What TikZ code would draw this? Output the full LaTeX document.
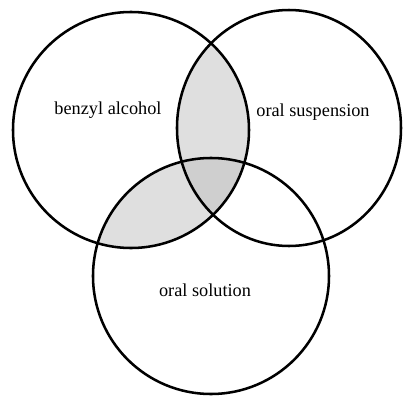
\documentclass[tikz,border=0pt]{standalone}
\usepackage{fontspec}
\setmainfont{Liberation Serif}
\usepackage{tikz}
\usetikzlibrary{calc}
\usetikzlibrary{positioning}

\begin{document}
\begin{tikzpicture}[x=0.025cm,y=-0.025cm,line width=1.8pt,
    setlabel/.style={font=\fontsize{13}{15}\selectfont}]
          \useasboundingbox (0,0) rectangle (404,396);
          \coordinate (A) at (131,130);
          \coordinate (B) at (289,128);
          \coordinate (C) at (211,276);
          \def\rad{118}

          % pairwise overlaps
          \begin{scope}
            \clip (A) circle (\rad);
            \fill[gray!25] (B) ellipse (112 and 118);
            \fill[gray!25] (C) circle (\rad);
          \end{scope}
          \begin{scope}
            \clip (A) circle (\rad);
            \clip (B) ellipse (112 and 118);
            \fill[gray!38] (C) circle (\rad);
          \end{scope}

          \draw (A) circle (\rad);
          \draw (B) ellipse (112 and 118);
          \draw (C) circle (\rad);

          \node[setlabel] (la) at (108,110) {benzyl alcohol};
          \node[setlabel] (lb) at (313,112) {oral suspension};
          \node[setlabel] (lc) at (205,290) {oral solution};
        \end{tikzpicture}
\end{document}
